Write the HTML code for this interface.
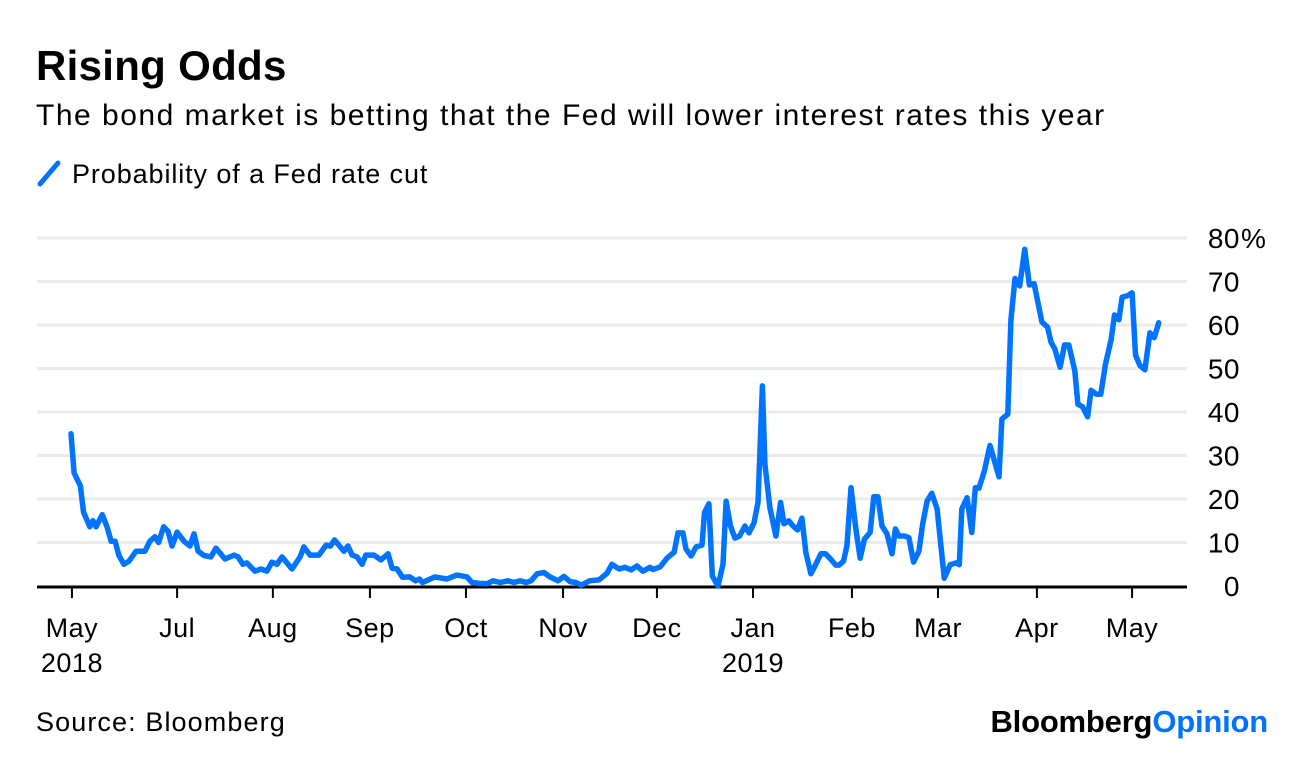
<!DOCTYPE html>
<html><head><meta charset="utf-8"><style>
html,body{margin:0;padding:0;background:#fff;}
body{width:1296px;height:754px;overflow:hidden;font-family:"Liberation Sans",sans-serif;}
</style></head><body>
<svg width="1296" height="754" viewBox="0 0 1296 754" xmlns="http://www.w3.org/2000/svg" font-family="Liberation Sans, sans-serif">
<text x="36" y="80" font-size="42" font-weight="bold" letter-spacing="0.3" fill="#000">Rising Odds</text>
<text x="36" y="125" font-size="30" letter-spacing="1.5" fill="#000">The bond market is betting that the Fed will lower interest rates this year</text>
<g>
<line x1="40" y1="184" x2="58" y2="163" stroke="#0073ff" stroke-width="5" stroke-linecap="round"/>
<text x="72" y="183" font-size="27" letter-spacing="0.9" fill="#000">Probability of a Fed rate cut</text>
</g>
<g id="grid"></g>
<g id="xaxis"></g>
<g id="yaxis"></g>
<path id="line" fill="none" stroke="#0073ff" stroke-width="5.5" stroke-linejoin="round" stroke-linecap="round"/>
<text x="36" y="731" font-size="27" letter-spacing="1.1" fill="#000">Source: Bloomberg</text>
<text x="1268" y="732" font-size="31" font-weight="bold" text-anchor="end" letter-spacing="-0.2"><tspan fill="#000">Bloomberg</tspan><tspan fill="#0073ff">Opinion</tspan></text>
</svg>
<script>
const days = [0,1,3,4,6,7,8,10,11.5,12.8,14.1,15.3,16.9,18.5,20.8,23.6,25.2,26.8,28,29.6,31,32.3,33.9,36.1,38,39.3,40.6,42.5,44.7,46.3,49.2,52.1,53.4,54.9,56.2,58.8,60.7,62.6,64.2,65.8,67.4,70.6,73.2,74.4,76.4,79.2,81.5,82.9,84.2,87.2,88.5,89.8,91.4,93,94.2,96.8,99,101.3,102.6,104.2,105.9,108.2,110.1,111.3,112.3,116.3,120.1,123.3,126.5,128.1,130.4,132.9,134.8,137.2,139.6,141.5,143.5,145.4,147,148.9,151.1,153,155.6,157.5,159.4,161.3,163.1,165.7,168.7,171.2,172.8,175.1,177,178.9,180.8,182.7,185,185.9,188.2,190.4,192.7,193.9,195.5,196.5,198.1,199.7,201.6,202.4,203.8,204.9,206.7,208.3,209.3,210.7,212.1,213.6,215.3,216.6,218.2,219.5,220.9,221.7,223.3,225.2,226.7,227.8,229.3,230.7,232.1,233.5,234.8,236.4,237.9,239.6,241.1,242.8,244.3,245.4,246.8,247.9,249.2,250.7,252.1,253.5,255.3,256.5,257.8,259.1,260.7,262.3,263.4,264.5,266.3,267.7,269.2,270.9,272.1,273.5,275,276.7,279,280.9,282.8,283.8,284.6,286.3,287.8,288.9,290.1,291.8,293.6,296.5,297.4,299.3,300.3,301.6,303.1,304.7,306.2,307.7,310.2,312,313.1,314.3,316,317.4,318.8,320.7,321.7,323.2,324.8,325.9,327.6,329,330.5,332.3,333.4,334.8,335.8,337.4,339,340.1,341.5,343.1,344.7,346.1,347.5];
const probability = [35,26,23,17,13.6,15,13.6,16.4,13.6,10.3,10.3,7,5,5.7,8,8,10.3,11.3,10,13.6,12.6,9.2,12.4,10.3,9.2,12,8,7,6.7,8.7,6.2,7.1,6.7,5,5.3,3.4,3.9,3.4,5.5,5,6.7,3.9,6.7,9,7.1,7.1,9.4,9.2,10.6,8,9.2,7.1,6.7,5,7.1,7.1,6,7.4,4.1,3.9,2,2.1,1.2,1.6,0.8,2.1,1.6,2.5,2.1,0.8,0.6,0.5,1.2,0.8,1.2,0.8,1.2,0.8,1.2,2.8,3.1,2.1,1.2,2.2,1,0.8,0.2,1.2,1.4,2.9,5,3.9,4.3,3.7,4.6,3.4,4.3,3.8,4.4,6.4,7.8,12.2,12.2,8.5,6.9,9,9.4,16.9,18.9,2.3,0,5,19.5,13.8,11,11.5,13.8,12.2,14.5,19.2,46,28,18,11.5,19.2,14.3,15,13.8,12.9,15.6,7.6,2.8,4.9,7.4,7.4,6.1,4.8,4.8,5.7,9.2,22.6,13.4,6.4,10.8,12.3,20.5,20.5,13.8,12,7.4,13.1,11.5,11.5,11.1,5.5,8,14.3,19.5,21.3,17.7,1.8,4.9,5.3,4.9,17.7,20.3,12.3,22.6,22.5,26.4,32.3,25.1,38.4,39.5,61.1,70.7,69,77.4,69.2,69.5,60.7,59.5,56.1,54.5,50.3,55.4,55.4,49.5,41.8,41.2,38.9,45,44.1,44.1,51,56.6,62.3,61.2,66.4,66.7,67.4,53.1,50.7,49.7,58.2,57.1,60.5];
const xTickDays = [0.3,33.9,64.5,95.5,126.2,157.2,187.2,217.9,249.5,277,308.6,339];
const xTickLabels = ["May","Jul","Aug","Sep","Oct","Nov","Dec","Jan","Feb","Mar","Apr","May"];
const xTickYears = ["2018","","","","","","","2019","","","",""];
const yTicks = [0,10,20,30,40,50,60,70,80];
const yTickLabels = ["0","10","20","30","40","50","60","70","80"];

const NS="http://www.w3.org/2000/svg";
const X0=71, PXD=3.13, Y0=586, PXV=4.35, LEFT=37, RIGHT=1187;
function xScale(d){return X0+d*PXD;}
function yScale(v){return Y0-v*PXV;}
function mk(tag,attrs,parent){const e=document.createElementNS(NS,tag);for(const k in attrs)e.setAttribute(k,attrs[k]);parent.appendChild(e);return e;}

const grid=document.getElementById('grid'), yaxis=document.getElementById('yaxis'), xaxis=document.getElementById('xaxis');
yTicks.forEach((v,i)=>{
  if(v!==0){
    const g=mk('line',{x1:LEFT,x2:RIGHT,y1:yScale(v),y2:yScale(v),stroke:'#ebebeb','stroke-width':3},grid);
    
    
  }
  const t=mk('text',{x:1240,y:yScale(v)+10,'font-size':28,fill:'#000','text-anchor':'end','letter-spacing':'0.5'},yaxis);
  t.textContent=yTickLabels[i];
  
  
  if(i===yTicks.length-1){
    const p=mk('text',{x:1241,y:yScale(v)+10,'font-size':28,fill:'#000'},yaxis);
    p.textContent='%';
    
    
  }
});
const base=mk('line',{x1:LEFT,x2:RIGHT,y1:Y0+1,y2:Y0+1,stroke:'#000','stroke-width':3},xaxis);


xTickDays.forEach((d,i)=>{
  const x=xScale(d);
  const tk=mk('line',{x1:x,x2:x,y1:Y0+1,y2:Y0+12,stroke:'#000','stroke-width':2},xaxis);
  
  
  const t=mk('text',{x:x,y:637,'font-size':27,fill:'#000','text-anchor':'middle','letter-spacing':'0.5'},xaxis);
  t.textContent=xTickLabels[i];
  
  
  if(xTickYears[i]){
    const y=mk('text',{x:x,y:672,'font-size':27,fill:'#000','text-anchor':'middle','letter-spacing':'0.5'},xaxis);
    y.textContent=xTickYears[i];
    
    
  }
});
document.getElementById('line').setAttribute('d',days.map((d,i)=>(i?'L':'M')+xScale(d).toFixed(1)+','+yScale(probability[i]).toFixed(1)).join(''));
</script>
</body></html>
